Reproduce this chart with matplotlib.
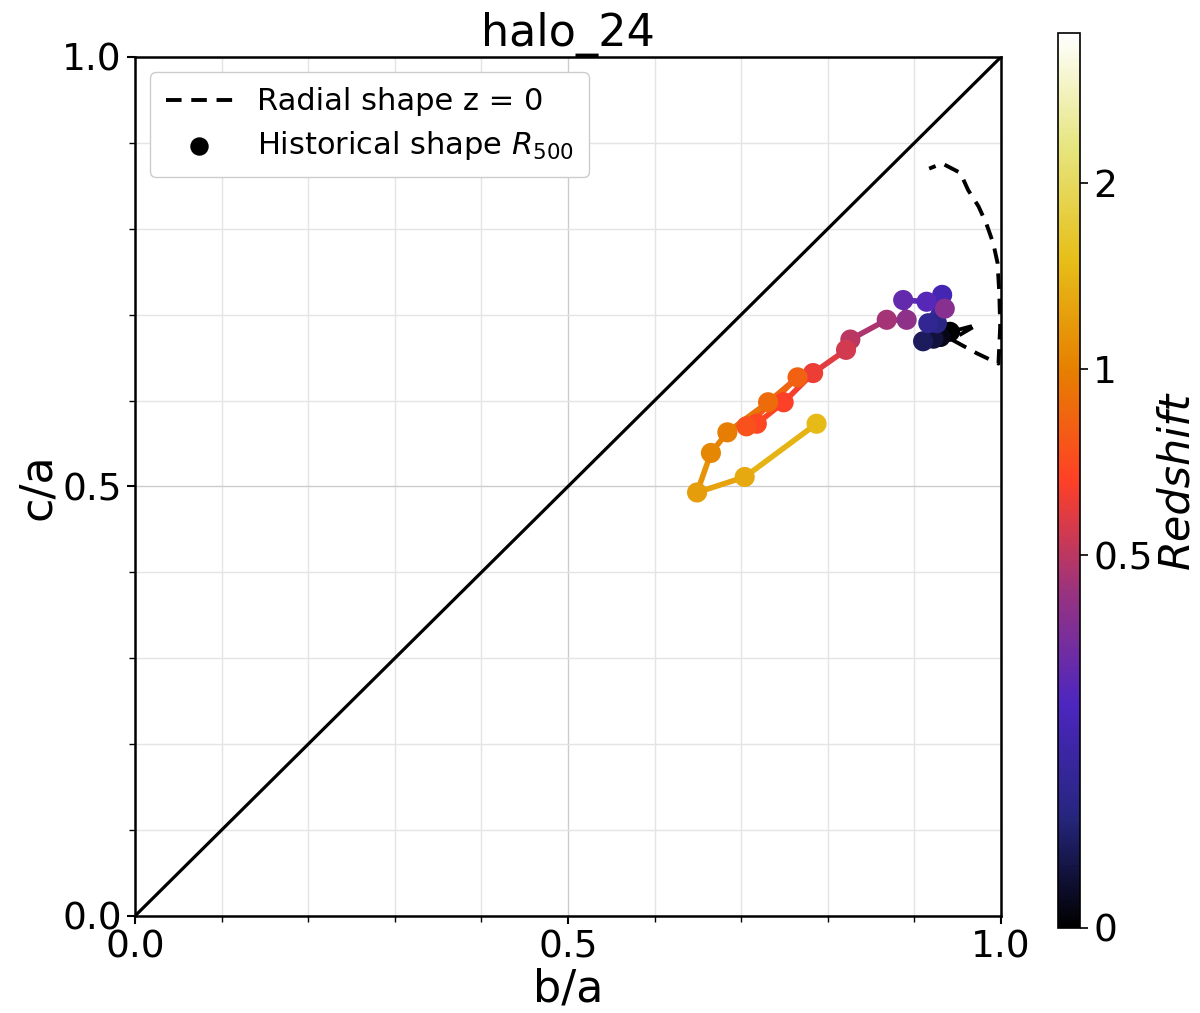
import numpy as np
import matplotlib
matplotlib.use('Agg')
import matplotlib.pyplot as plt
from matplotlib.collections import LineCollection
from matplotlib.colors import Normalize
from matplotlib.cm import ScalarMappable

# historical shape at R500, ordered from z=0 to high z
ba_hist = [0.941, 0.930, 0.922, 0.910, 0.926, 0.916, 0.932, 0.935, 0.914, 0.887,
           0.891, 0.868, 0.826, 0.821, 0.783, 0.749, 0.718, 0.706, 0.765, 0.731,
           0.684, 0.665, 0.649, 0.704, 0.787]
ca_hist = [0.680, 0.674, 0.672, 0.669, 0.690, 0.690, 0.723, 0.707, 0.715, 0.717,
           0.694, 0.694, 0.671, 0.659, 0.632, 0.598, 0.573, 0.570, 0.627, 0.598,
           0.563, 0.539, 0.493, 0.511, 0.573]
z_hist = [0.0, 0.02, 0.05, 0.08, 0.12, 0.15, 0.22, 0.38, 0.27, 0.30,
          0.40, 0.45, 0.50, 0.55, 0.62, 0.66, 0.70, 0.74, 0.82, 0.88,
          0.98, 1.05, 1.20, 1.30, 1.45]

# radial shape profile at z=0
ba_rad = [0.949, 0.972, 0.943, 0.972, 0.997, 0.999, 0.998, 0.997, 0.996, 0.991,
          0.983, 0.974, 0.962, 0.953, 0.932, 0.917]
ca_rad = [0.682, 0.688, 0.671, 0.655, 0.643, 0.686, 0.725, 0.742, 0.760, 0.783,
          0.806, 0.826, 0.845, 0.865, 0.876, 0.870]

cbar_ticks = [0, 0.5, 1, 2]
z_max = 4.0

def zval(z):
    # colour by 1 - scale factor
    z = np.asarray(z, dtype=float)
    return z / (1 + z)

cmap = plt.get_cmap('CMRmap')
norm = Normalize(vmin=0, vmax=zval(z_max))

fig = plt.figure(figsize=(12, 10.13), dpi=100)
ax = fig.add_axes([0.1125, 0.0958, 0.7217, 0.848])
cax = fig.add_axes([0.8817, 0.084, 0.0183, 0.883])

ax.plot([0, 1], [0, 1], color='black', lw=2.3, zorder=2)
ax.plot(ba_rad, ca_rad, color='black', ls='--', lw=2.8, dashes=(4, 2.5), zorder=3,
        label='Radial shape z = 0')

pts = np.column_stack([ba_hist, ca_hist])
segs = np.stack([pts[:-1], pts[1:]], axis=1)
zv = zval(z_hist)
lc = LineCollection(segs, cmap=cmap, norm=norm, linewidths=4, zorder=4)
lc.set_array((zv[:-1] + zv[1:]) / 2)
ax.add_collection(lc)
ax.scatter(ba_hist, ca_hist, c=zv, cmap=cmap, norm=norm, s=210, zorder=5,
           edgecolors='none')
ax.scatter([], [], color='black', s=150, label='Historical shape $R_{500}$')

ax.set_xlim(0, 1)
ax.set_ylim(0, 1)
ax.set_xticks([0, 0.5, 1.0])
ax.set_yticks([0, 0.5, 1.0])
ax.set_xticks(np.arange(0, 1.01, 0.1), minor=True)
ax.set_yticks(np.arange(0, 1.01, 0.1), minor=True)
ax.grid(which='major', color='#cccccc', lw=1)
ax.grid(which='minor', color='#e4e4e4', lw=1)
ax.set_axisbelow(True)
ax.tick_params(which='major', labelsize=27, length=6, width=1.5)
ax.tick_params(which='minor', length=4, width=1)
for s in ax.spines.values():
    s.set_linewidth(1.8)
ax.set_xlabel('b/a', fontsize=32, labelpad=2)
ax.set_ylabel('c/a', fontsize=32, labelpad=2)
ax.set_title('halo_24', fontsize=32, pad=4)
ax.legend(loc='upper left', fontsize=22, handlelength=2.2, borderpad=0.5,
          labelspacing=0.4, framealpha=1)

sm = ScalarMappable(norm=norm, cmap=cmap)
cb = fig.colorbar(sm, cax=cax)
cb.set_ticks(zval(cbar_ticks))
cb.set_ticklabels([str(t) for t in cbar_ticks])
cb.ax.tick_params(labelsize=27, length=6, width=1.2)
cb.set_label('Redshift', fontsize=31, style='italic', labelpad=2)
cb.outline.set_linewidth(1.2)

fig.savefig('out.png', dpi=100)
